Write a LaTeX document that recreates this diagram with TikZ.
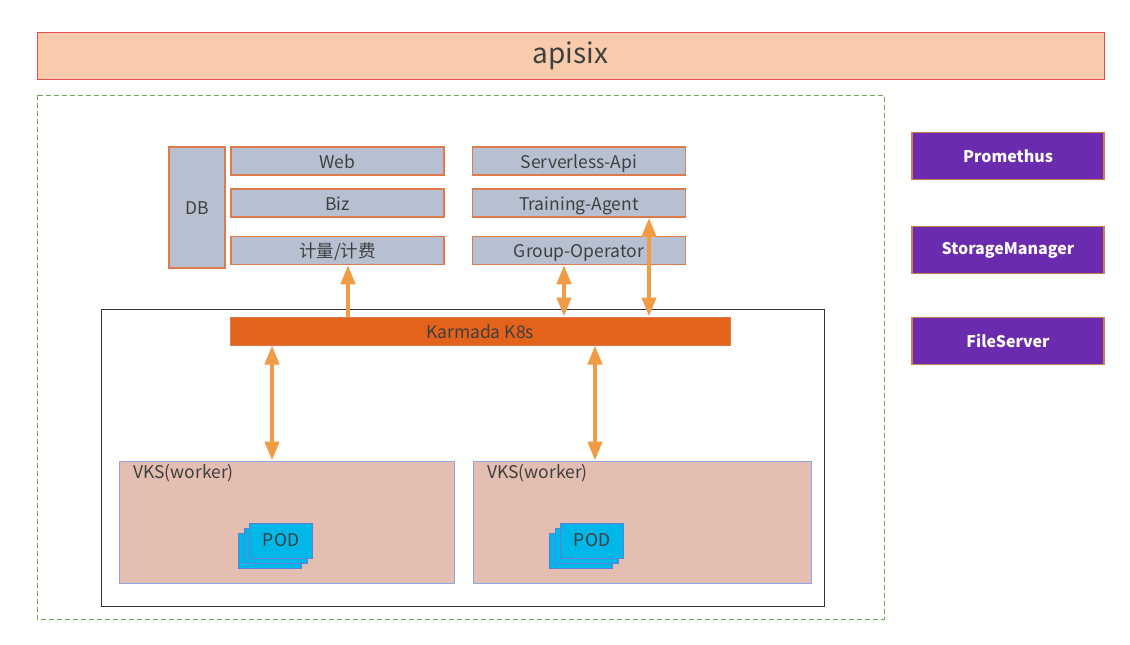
\documentclass[tikz,border=0pt]{standalone}
\usepackage{fontspec}
\setmainfont{Noto Sans CJK SC}
\usetikzlibrary{arrows.meta,calc}
\definecolor{apifill}{HTML}{F8CBAD}
\definecolor{apiline}{HTML}{E84C4C}
\definecolor{svcfill}{HTML}{B7C0D1}
\definecolor{svcline}{HTML}{DE7B4E}
\definecolor{karfill}{HTML}{E3621C}
\definecolor{arrcol}{HTML}{F19B45}
\definecolor{vksfill}{HTML}{E4BEB0}
\definecolor{vksline}{HTML}{8FA3E6}
\definecolor{podfill}{HTML}{00B7E8}
\definecolor{podline}{HTML}{5C7FD8}
\definecolor{purp}{HTML}{6A2BAE}
\definecolor{purpline}{HTML}{CF7D4F}
\definecolor{txt}{HTML}{3F3F3F}
\definecolor{dashgreen}{HTML}{6AA84F}
\tikzset{
  lbl/.style={font=\fontsize{17.5}{19}\selectfont},
  svc/.style={draw=svcline, line width=1.5pt, fill=svcfill, minimum width=213pt, minimum height=28pt, inner sep=0pt, text=txt, lbl, text depth=0pt, text height=14pt},
  side/.style={draw=purpline, line width=1.5pt, fill=purp, minimum width=192pt, minimum height=47pt, inner sep=0pt, text=white, font=\fontsize{16}{18}\selectfont\bfseries},
  vks/.style={draw=vksline, line width=0.8pt, fill=vksfill, inner sep=0pt},
  pod/.style={draw=podline, line width=0.8pt, fill=podfill, minimum width=63pt, minimum height=35pt, inner sep=0pt, text=txt, lbl},
  tip/.tip={Triangle[length=19pt,width=14pt]},
  arr/.style={draw=arrcol, line width=4pt, -tip},
  darr/.style={draw=arrcol, line width=4pt, tip-tip},
}
\begin{document}
\begin{tikzpicture}[x=1pt,y=-1pt]
\useasboundingbox[fill=white] (0,0) rectangle (1130,645);
% apisix
\node[draw=apiline, line width=1pt, fill=apifill, minimum width=1067pt, minimum height=47pt, inner sep=0pt, text=txt, font=\fontsize{28}{30}\selectfont] (apisix) at (570.5,55.5) {apisix};
% green dashed area
\draw[dashgreen, line width=1pt, dash pattern=on 5pt off 3pt] (37,95) rectangle (884,619);
% DB + services
\node[svc, minimum width=56pt, minimum height=121pt] (db) at (197,207.5) {DB};
\node[svc] (web) at (337.5,161) {Web};
\node[svc] (biz) at (337.5,203) {Biz};
\node[svc] (bill) at (337.5,250.5) {计量/计费};
\node[svc] (sla) at (579,161) {Serverless-Api};
\node[svc] (ta) at (579,203) {Training-Agent};
\node[svc] (go) at (579,250.5) {Group-Operator};
% k8s box
\node[draw=black!80, line width=1pt, minimum width=723pt, minimum height=297pt, inner sep=0pt] (k8s) at (462.5,457.5) {};
\node[draw=svcline, line width=1pt, fill=karfill, minimum width=500pt, minimum height=28pt, inner sep=0pt, text=txt, lbl, text depth=0pt, text height=14pt] (kar) at (480,331) {Karmada K8s};
% VKS workers
\node[vks, minimum width=335pt, minimum height=122pt] (vks1) at (286.5,522) {};
\node[vks, minimum width=338pt, minimum height=122pt] (vks2) at (642,522) {};
\node[anchor=north west, inner sep=0pt, text=txt, lbl] (vl1) at (133,464) {VKS(worker)};
\node[anchor=north west, inner sep=0pt, text=txt, lbl] (vl2) at (487,464) {VKS(worker)};
% PODs
\node[pod] (p1c) at (270,550.5) {};
\node[pod] (p1b) at (275.5,545.5) {};
\node[pod] (p1a) at (281,540.5) {POD};
\node[pod] (p2c) at (581,550.5) {};
\node[pod] (p2b) at (586.5,545.5) {};
\node[pod] (p2a) at (592,540.5) {POD};
% side services
\node[side] (prom) at (1008,156) {Promethus};
\node[side] (sm) at (1008,250) {StorageManager};
\node[side] (fs) at (1008,341) {FileServer};
% arrows
\coordinate (xa) at (348,0);
\coordinate (xb) at (564,0);
\coordinate (xc) at (649,0);
\coordinate (xd) at (272,0);
\coordinate (xe) at (595,0);
\draw[arr] (kar.north -| xa) -- (bill.south -| xa);
\draw[darr] (kar.north -| xb) -- (go.south -| xb);
\draw[darr] (kar.north -| xc) -- (ta.south -| xc);
\draw[darr] (kar.south -| xd) -- (vks1.north -| xd);
\draw[darr] (kar.south -| xe) -- (vks2.north -| xe);
\end{tikzpicture}
\end{document}
